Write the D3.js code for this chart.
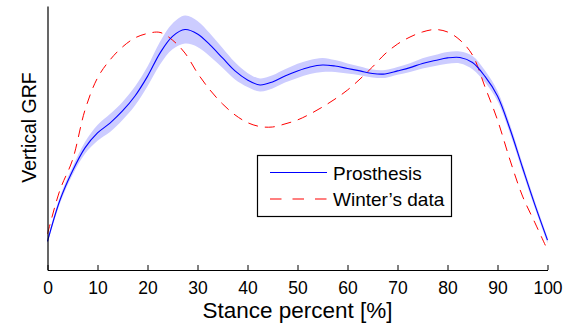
<!DOCTYPE html>
<html>
<head>
<meta charset="utf-8">
<script src="https://cdn.jsdelivr.net/npm/d3@7"></script>
<style>
  body { margin: 0; background: #fff; }
  text { font-family: "Liberation Sans", Arial, sans-serif; fill: #000; }
</style>
</head>
<body>
<svg id="chart" width="578" height="324"></svg>
<script>
// stance percent samples
let stance = [0, 2.5, 5, 7.5, 10, 12.5, 15, 17.5, 20, 22.5, 25, 27.5, 30, 32.5, 35, 37.5, 40, 42.5, 45, 47.5,
  50, 52.5, 55, 57.5, 60, 62.5, 65, 67.5, 70, 72.5, 75, 77.5, 80, 82.5, 85, 87.5, 90, 92.5, 95, 97.5, 100]

// vertical GRF (body weight) - prosthesis mean and std
let prosthesis = [0.130, 0.318, 0.450, 0.555, 0.623, 0.668, 0.723, 0.791, 0.880, 0.986, 1.062, 1.093, 1.073,
  1.023, 0.964, 0.905, 0.864, 0.841, 0.855, 0.882, 0.905, 0.923, 0.932, 0.927, 0.916, 0.905, 0.893, 0.891,
  0.905, 0.920, 0.939, 0.952, 0.964, 0.966, 0.943, 0.880, 0.791, 0.641, 0.466, 0.295, 0.136]
let prosthesis_sd = [0.011, 0.015, 0.018, 0.027, 0.036, 0.041, 0.041, 0.043, 0.045, 0.052, 0.059, 0.064, 0.059,
  0.052, 0.045, 0.039, 0.032, 0.030, 0.030, 0.030, 0.032, 0.032, 0.032, 0.027, 0.023, 0.020, 0.018, 0.018,
  0.018, 0.020, 0.023, 0.025, 0.027, 0.027, 0.030, 0.027, 0.023, 0.020, 0.018, 0.016, 0.014]

// Winter's reference data
let winter = [0.164, 0.364, 0.500, 0.727, 0.873, 0.955, 1.014, 1.055, 1.075, 1.080, 1.045, 0.986, 0.895,
  0.818, 0.755, 0.705, 0.670, 0.652, 0.650, 0.664, 0.682, 0.709, 0.741, 0.777, 0.818, 0.868, 0.923, 0.982,
  1.027, 1.059, 1.082, 1.093, 1.082, 1.045, 0.977, 0.832, 0.682, 0.500, 0.336, 0.214, 0.091]

let legend_labels = ["Prosthesis", "Winter\u2019s data"]
let x_ticks = [0, 10, 20, 30, 40, 50, 60, 70, 80, 90, 100]

let margin = {top: 6, right: 30.5, bottom: 54, left: 47.5}
let width = 578, height = 324

let svg = d3.select("#chart")

let x = d3.scaleLinear()
  .domain([0, 100])
  .range([margin.left, width - margin.right])
let y = d3.scaleLinear()
  .domain([0, 1.2])
  .range([height - margin.bottom, margin.top])

let curve = d3.curveCatmullRom.alpha(0.5)

// shaded std band
let band = d3.area()
  .curve(curve)
  .x((d, i) => x(stance[i]))
  .y0((d, i) => y(prosthesis[i] - prosthesis_sd[i]))
  .y1((d, i) => y(prosthesis[i] + prosthesis_sd[i]))

svg.append("path")
  .attr("d", band(stance))
  .attr("fill", "#ccccff")

let line = d3.line().curve(curve).x((d, i) => x(stance[i]))

svg.append("path")
  .attr("d", line.y((d, i) => y(winter[i]))(stance))
  .attr("fill", "none")
  .attr("stroke", "#ff0000")
  .attr("stroke-width", 1)
  .attr("stroke-dasharray", "10,7")

svg.append("path")
  .attr("d", line.y((d, i) => y(prosthesis[i]))(stance))
  .attr("fill", "none")
  .attr("stroke", "#0000ff")
  .attr("stroke-width", 1.1)

// axes
let x_axis = d3.axisBottom(x)
  .tickValues(x_ticks)
  .tickSizeInner(-5)
  .tickSizeOuter(0)

let gx = svg.append("g")
  .attr("transform", `translate(0, ${height - margin.bottom})`)
  .call(x_axis)
gx.select(".domain").attr("stroke", "#000").attr("stroke-width", 1.2)
gx.selectAll(".tick line").attr("stroke", "#000")
gx.selectAll(".tick text")
  .attr("y", 23.5)
  .attr("dy", null)
  .style("font-size", "17.5px")
  .style("font-family", "'Liberation Sans', Arial, sans-serif")
  .attr("fill", "#000")

let y_axis = d3.axisLeft(y).tickValues([]).tickSizeOuter(0)
let gy = svg.append("g")
  .attr("transform", `translate(${margin.left}, 0)`)
  .call(y_axis)
gy.select(".domain").attr("stroke", "#000").attr("stroke-width", 1.2)

svg.append("text")
  .attr("x", (x.range()[0] + x.range()[1]) / 2)
  .attr("y", 318)
  .attr("text-anchor", "middle")
  .style("font-size", "22.5px")
  .text("Stance percent [%]")

svg.append("text")
  .attr("transform", "translate(36, 127.5) rotate(-90)")
  .attr("text-anchor", "middle")
  .style("font-size", "19.5px")
  .text("Vertical GRF")

// legend
let legend = svg.append("g")
legend.append("rect")
  .attr("x", 257.5).attr("y", 155.5)
  .attr("width", 194).attr("height", 61)
  .attr("fill", "#fff")
  .attr("stroke", "#000")
  .attr("stroke-width", 1.2)

let legend_styles = [
  {stroke: "#0000ff", dash: null},
  {stroke: "#ff0000", dash: "11.5,11"}
]

legend_labels.forEach((label, i) => {
  let cy = 172.5 + i * 26.5
  legend.append("line")
    .attr("x1", 270).attr("x2", 327)
    .attr("y1", cy).attr("y2", cy)
    .attr("stroke", legend_styles[i].stroke)
    .attr("stroke-width", 1.1)
    .attr("stroke-dasharray", legend_styles[i].dash)
  legend.append("text")
    .attr("x", 333)
    .attr("y", cy + 7)
    .style("font-size", "19px")
    .text(label)
})
</script>
</body>
</html>
